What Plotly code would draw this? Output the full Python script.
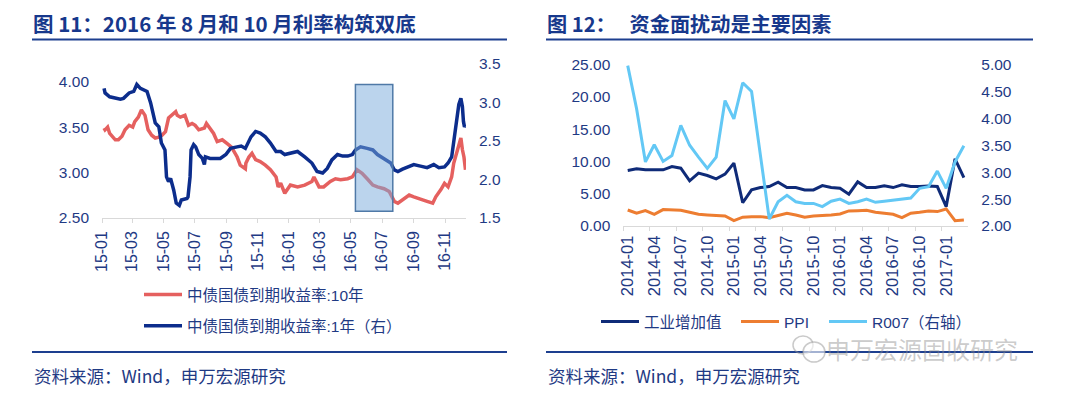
import plotly.graph_objects as go

# ---------------- Left chart data (中债国债到期收益率) ----------------
dates_10y = ["2015-01-05","2015-01-07","2015-01-12","2015-01-16","2015-01-27","2015-02-02","2015-02-09","2015-02-15",
             "2015-02-23","2015-03-02","2015-03-06","2015-03-13","2015-03-19","2015-03-26","2015-04-01","2015-04-08",
             "2015-04-15","2015-04-22","2015-04-28","2015-05-05","2015-05-11","2015-05-18","2015-05-25","2015-05-28",
             "2015-06-03","2015-06-12","2015-06-19","2015-06-26","2015-07-02","2015-07-09","2015-07-20","2015-07-24",
             "2015-07-31","2015-08-07","2015-08-14","2015-08-24","2015-09-02","2015-09-11","2015-09-22","2015-09-28",
             "2015-10-08","2015-10-09","2015-10-15","2015-10-21","2015-10-28","2015-11-06","2015-11-16","2015-11-26",
             "2015-12-07","2015-12-11","2015-12-16","2015-12-24","2016-01-04","2016-01-18","2016-02-01","2016-02-15",
             "2016-02-19","2016-02-29","2016-03-09","2016-03-22","2016-04-01","2016-04-11","2016-04-25","2016-05-04",
             "2016-05-13","2016-05-23","2016-06-02","2016-06-13","2016-06-22","2016-07-05","2016-07-15","2016-07-25",
             "2016-08-01","2016-08-10","2016-08-23","2016-09-01","2016-09-14","2016-09-27","2016-10-08","2016-10-14",
             "2016-10-24","2016-10-31","2016-11-07","2016-11-14","2016-11-18","2016-11-25","2016-12-02","2016-12-05",
             "2016-12-08","2016-12-11"]
yield_10y = [3.49,3.47,3.50,3.43,3.36,3.36,3.40,3.47,
             3.52,3.50,3.56,3.61,3.69,3.63,3.47,3.41,
             3.38,3.39,3.41,3.45,3.60,3.63,3.67,3.63,
             3.61,3.63,3.52,3.54,3.52,3.47,3.49,3.54,
             3.49,3.43,3.34,3.36,3.32,3.28,3.17,3.08,
             3.04,3.10,3.17,3.21,3.14,3.12,3.08,3.03,
             2.95,2.84,2.88,2.77,2.86,2.84,2.86,2.90,
             2.95,2.84,2.84,2.90,2.93,2.92,2.93,2.95,
             3.03,2.99,2.93,2.86,2.84,2.82,2.79,2.68,
             2.66,2.70,2.75,2.73,2.70,2.68,2.66,2.73,
             2.81,2.88,2.84,2.95,3.10,3.25,3.38,3.25,
             3.17,3.03]

dates_1y = ["2015-01-05","2015-01-07","2015-01-16","2015-02-06","2015-02-12","2015-02-23","2015-03-04","2015-03-10",
            "2015-03-17","2015-03-30","2015-04-06","2015-04-15","2015-04-22","2015-04-27","2015-05-04","2015-05-07",
            "2015-05-11","2015-05-15","2015-05-21","2015-05-26","2015-06-01","2015-06-05","2015-06-16","2015-06-18",
            "2015-06-22","2015-06-24","2015-06-29","2015-07-03","2015-07-09","2015-07-16","2015-07-20","2015-07-22",
            "2015-07-31","2015-08-20","2015-08-31","2015-09-09","2015-09-22","2015-09-30","2015-10-08","2015-10-19",
            "2015-10-28","2015-11-06","2015-11-16","2015-11-26","2015-12-07","2015-12-16","2015-12-24","2016-01-04",
            "2016-01-18","2016-02-01","2016-02-15","2016-02-25","2016-03-07","2016-03-16","2016-03-25","2016-04-05",
            "2016-04-15","2016-04-25","2016-05-04","2016-05-10","2016-05-20","2016-06-02","2016-06-13","2016-06-22",
            "2016-07-05","2016-07-18","2016-07-25","2016-08-01","2016-08-10","2016-08-23","2016-09-01","2016-09-14",
            "2016-09-27","2016-10-10","2016-10-20","2016-10-31","2016-11-07","2016-11-14","2016-11-18","2016-11-24",
            "2016-11-28","2016-12-02","2016-12-05","2016-12-07","2016-12-09","2016-12-11"]
yield_1y = [3.18,3.12,3.07,3.04,3.05,3.12,3.14,3.23,
            3.18,3.14,2.99,2.73,2.68,2.47,2.38,2.03,
            1.97,2.01,1.86,1.69,1.66,1.73,1.75,1.77,
            2.03,2.38,2.45,2.42,2.32,2.27,2.19,2.29,
            2.27,2.27,2.32,2.40,2.42,2.43,2.40,2.55,
            2.62,2.60,2.55,2.47,2.36,2.36,2.32,2.34,
            2.36,2.29,2.21,2.10,2.08,2.14,2.25,2.32,
            2.30,2.30,2.32,2.38,2.42,2.40,2.38,2.32,
            2.27,2.21,2.12,2.10,2.13,2.17,2.19,2.17,
            2.15,2.19,2.15,2.16,2.21,2.29,2.47,2.73,
            2.97,3.05,2.94,2.75,2.68,2.70]

highlight_dates = ["2016-05-10", "2016-07-22"]
highlight_levels = [2.57, 3.97]

# ---------------- Right chart data ----------------
months = ["2014-01","2014-02","2014-03","2014-04","2014-05","2014-06","2014-07","2014-08","2014-09","2014-10",
          "2014-11","2014-12","2015-01","2015-02","2015-03","2015-04","2015-05","2015-06","2015-07","2015-08",
          "2015-09","2015-10","2015-11","2015-12","2016-01","2016-02","2016-03","2016-04","2016-05","2016-06",
          "2016-07","2016-08","2016-09","2016-10","2016-11","2016-12","2017-01","2017-02","2017-03"]
iva = [8.6, 8.85, 8.7, 8.7, 8.7, 9.21, 8.95, 6.99, 8.18, 7.82,
       7.30, 8.02, 9.73, 3.6, 5.59, 5.95, 6.11, 6.78, 5.95, 5.95,
       5.59, 5.59, 6.26, 5.95, 5.85, 4.92, 6.83, 5.95, 5.95, 6.21,
       5.95, 6.37, 6.11, 6.11, 6.21, 6.11, 3.00, 10.4, 7.5]
ppi = [2.48, 1.97, 2.38, 1.81, 2.54, 2.48, 2.43, 2.12, 1.81, 1.71,
       1.60, 1.55, 0.83, 1.37, 1.45, 1.45, 1.29, 1.60, 1.97, 1.71,
       1.35, 1.55, 1.60, 1.71, 1.86, 2.33, 2.38, 2.43, 2.12, 1.97,
       1.81, 1.29, 1.97, 2.12, 2.33, 2.23, 2.64, 0.83, 0.93]
r007 = [4.98, 4.18, 3.19, 3.51, 3.20, 3.31, 3.87, 3.50, 3.28, 3.07,
        3.28, 4.33, 3.99, 4.66, 4.50, 3.31, 2.13, 2.45, 2.57, 2.45,
        2.42, 2.42, 2.36, 2.46, 2.50, 2.42, 2.45, 2.50, 2.44, 2.46,
        2.48, 2.49, 2.52, 2.70, 2.73, 3.02, 2.70, 3.19, 3.49]

# ---------------- Styles ----------------
# The page body has an 8px margin, so the figure is drawn 8px in from the top-left corner.
OFF = 8
W, H = 1072, 385
NAVY_TXT = "#1f3a84"
TITLE_C = "#17388c"
RULE_C = "#1d3f8f"
RED = "#e5605f"
NAVY = "#0c2d8c"
DARK = "#0f2b78"
ORANGE = "#ed7d31"
LIGHT = "#63c8f5"
FONT = "Arial, 'Liberation Sans', 'Noto Sans CJK SC', sans-serif"
CJK = "'Noto Sans CJK SC', Arial, sans-serif"


def px_x(p):
    """page pixel x -> paper fraction"""
    return (p - OFF) / W


def px_y(p):
    """page pixel y -> paper fraction"""
    return 1 - (p - OFF) / H


ytickfont = dict(family=FONT, size=15.5, color=NAVY_TXT)
legfont = dict(family=FONT, size=15.5, color=NAVY_TXT)

fig = go.Figure()
fig.add_trace(go.Scatter(x=dates_10y, y=yield_10y, mode="lines", name="中债国债到期收益率:10年",
                         line=dict(color=RED, width=3.5), xaxis="x", yaxis="y",
                         legend="legend", legendgroup="g1"))
fig.add_trace(go.Scatter(x=dates_1y, y=yield_1y, mode="lines", name="中债国债到期收益率:1年（右）",
                         line=dict(color=NAVY, width=3.5), xaxis="x", yaxis="y2",
                         legend="legend", legendgroup="g2"))
fig.add_trace(go.Scatter(x=months, y=iva, mode="lines", name="工业增加值",
                         line=dict(color=DARK, width=3), xaxis="x2", yaxis="y3", legend="legend2"))
fig.add_trace(go.Scatter(x=months, y=ppi, mode="lines", name="PPI",
                         line=dict(color=ORANGE, width=3), xaxis="x2", yaxis="y3", legend="legend3"))
fig.add_trace(go.Scatter(x=months, y=r007, mode="lines", name="R007（右轴）",
                         line=dict(color=LIGHT, width=3), xaxis="x2", yaxis="y4", legend="legend4"))

common_x = dict(showgrid=False, zeroline=False, showline=True, linecolor="#d9d9d9", linewidth=1,
                ticks="outside", ticklen=4, tickcolor="#d9d9d9", tickangle=-90,
                automargin=False, ticklabelstandoff=2)
common_y = dict(showgrid=False, zeroline=False, showline=False, ticks="", tickfont=ytickfont,
                automargin=False, ticklabelstandoff=12)


def leg(xp, yp, **kw):
    d = dict(x=px_x(xp), y=px_y(yp), xanchor="left", yanchor="top", bgcolor="rgba(0,0,0,0)",
             font=legfont, itemwidth=38)
    d.update(kw)
    return d


fig.update_layout(
    width=W, height=H, margin=dict(l=0, r=0, t=0, b=0), autosize=False,
    paper_bgcolor="white", plot_bgcolor="white",
    xaxis=dict(domain=[px_x(102), px_x(466)], type="date", range=["2015-01-01", "2016-12-12"],
               tick0="2015-01-01", dtick="M2", tickformat="%y-%m", anchor="y",
               tickfont=dict(family=FONT, size=16, color=NAVY_TXT), **common_x),
    yaxis=dict(domain=[px_y(217.7), px_y(63.7)], range=[2.5, 4.2], tickvals=[2.5, 3.0, 3.5, 4.0],
               tickformat=".2f", anchor="x", **common_y),
    yaxis2=dict(range=[1.5, 3.5], dtick=0.5, tick0=1.5, tickformat=".1f", overlaying="y", side="right",
                anchor="x", **common_y),
    xaxis2=dict(domain=[px_x(623.3), px_x(968.3)], type="category", range=[-0.5, 38.5],
                tickmode="linear", tick0=0, dtick=3, tickson="boundaries", anchor="y3",
                tickfont=dict(family=FONT, size=16.5, color=NAVY_TXT), **common_x),
    yaxis3=dict(domain=[px_y(226), px_y(64.5)], range=[0, 25], dtick=5, tick0=0, tickformat=".2f",
                anchor="x2", **common_y),
    yaxis4=dict(range=[2, 5], dtick=0.5, tick0=2, tickformat=".2f", overlaying="y3", side="right",
                anchor="x2", **common_y),
    legend=leg(139, 278, orientation="v", traceorder="grouped", tracegroupgap=8),
    legend2=leg(596, 305, orientation="h"),
    legend3=leg(736, 305, orientation="h"),
    legend4=leg(824, 305, orientation="h"),
    showlegend=True,
)

# highlight box (left chart)
fig.add_shape(type="rect", xref="x", yref="y", x0=highlight_dates[0], x1=highlight_dates[1],
              y0=highlight_levels[0], y1=highlight_levels[1], layer="above",
              fillcolor="rgba(120,170,220,0.5)", line=dict(color="#4f79a7", width=1.5))

# title / footer rules
for x0, x1 in [(32, 507), (546, 1033)]:
    fig.add_shape(type="line", xref="paper", yref="paper", x0=px_x(x0), x1=px_x(x1),
                  y0=px_y(39.5), y1=px_y(39.5), line=dict(color=RULE_C, width=2))
    fig.add_shape(type="line", xref="paper", yref="paper", x0=px_x(x0), x1=px_x(x1),
                  y0=px_y(352), y1=px_y(352), line=dict(color=RULE_C, width=2))

# titles
fig.add_annotation(text="<b>图 11：2016 年 8 月和 10 月利率构筑双底</b>", xref="paper", yref="paper",
                   x=px_x(31), y=px_y(23), xanchor="left", yanchor="middle", showarrow=False,
                   font=dict(family=CJK, size=20.5, color=TITLE_C))
fig.add_annotation(text="<b>图 12：   资金面扰动是主要因素</b>", xref="paper", yref="paper",
                   x=px_x(545), y=px_y(23), xanchor="left", yanchor="middle", showarrow=False,
                   font=dict(family=CJK, size=20.2, color=TITLE_C))

# sources
for xs in [32, 546]:
    fig.add_annotation(text="资料来源：Wind，申万宏源研究", xref="paper", yref="paper",
                       x=px_x(xs), y=px_y(375), xanchor="left", yanchor="middle", showarrow=False,
                       font=dict(family=CJK, size=17.5, color=NAVY_TXT))

# watermark
fig.add_annotation(text="申万宏源固收研究", xref="paper", yref="paper",
                   x=px_x(824), y=px_y(348), xanchor="left", yanchor="middle", showarrow=False,
                   font=dict(family=CJK, size=24, color="rgba(140,140,140,0.45)"))
fig.add_shape(type="circle", xref="paper", yref="paper", x0=px_x(793), x1=px_x(813),
              y0=px_y(354), y1=px_y(336), line=dict(color="rgba(150,150,150,0.5)", width=1.5))
fig.add_shape(type="circle", xref="paper", yref="paper", x0=px_x(803), x1=px_x(825),
              y0=px_y(362), y1=px_y(342), fillcolor="rgba(255,255,255,0.6)",
              line=dict(color="rgba(150,150,150,0.5)", width=1.5))

fig.write_html("out.html")
